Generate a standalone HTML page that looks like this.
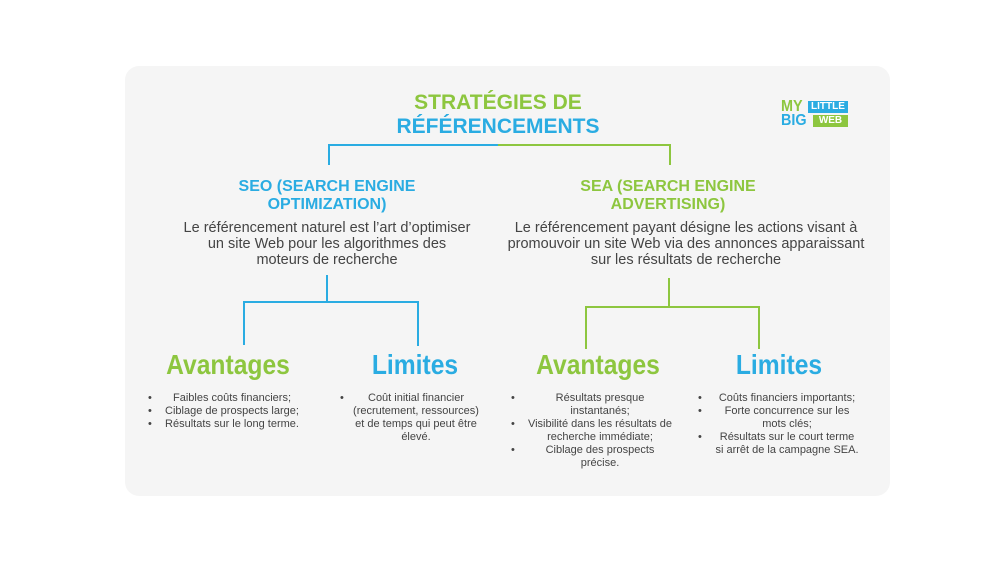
<!DOCTYPE html>
<html><head><meta charset="utf-8"><style>
body{margin:0;width:1000px;height:563px;background:#fff;position:relative;overflow:hidden;font-family:"Liberation Sans",sans-serif}
.card{position:absolute;left:125px;top:66px;width:765px;height:430px;background:#f5f5f5;border-radius:14px}
.t{position:absolute;text-align:center;white-space:nowrap;transform:translateX(-50%)}
.b{color:#2aace2}.g{color:#8dc63f}
.h{font-weight:bold;font-size:21px;line-height:24px}
.s{font-weight:bold;font-size:16px;line-height:18px}
.p{font-size:14.5px;line-height:16px;color:#444}
.a{font-weight:bold;font-size:28px;line-height:30px;transform:translateX(-50%) scaleX(0.88)}
.l{position:absolute;font-size:11px;line-height:13px;color:#444;text-align:center}
.l div{position:relative}
.l div:before{content:"•";position:absolute;left:0}
.ln{position:absolute}
</style></head><body>
<div class="card"></div>
<div class="t h g" style="left:498px;top:91px">STRATÉGIES DE</div>
<div class="t h b" style="left:498px;top:115px">RÉFÉRENCEMENTS</div>
<!-- logo -->
<div style="position:absolute;left:781px;top:100px;font-weight:bold;font-size:16px;line-height:14px;color:#8dc63f;transform:scaleX(0.9);transform-origin:left">MY</div>
<div style="position:absolute;left:808px;top:101px;width:40px;height:12px;background:#2aace2;color:#fff;font-weight:bold;font-size:10px;line-height:12px;text-align:center">LITTLE</div>
<div style="position:absolute;left:781px;top:114px;font-weight:bold;font-size:16px;line-height:14px;color:#2aace2;transform:scaleX(0.9);transform-origin:left">BIG</div>
<div style="position:absolute;left:813px;top:115px;width:35px;height:12px;background:#8dc63f;color:#fff;font-weight:bold;font-size:10px;line-height:12px;text-align:center">WEB</div>
<!-- connectors -->
<div class="ln" style="left:328px;top:144px;width:170px;height:2px;background:#2aace2"></div>
<div class="ln" style="left:498px;top:144px;width:172px;height:2px;background:#8dc63f"></div>
<div class="ln" style="left:328px;top:144px;width:2px;height:21px;background:#2aace2"></div>
<div class="ln" style="left:669px;top:144px;width:2px;height:21px;background:#8dc63f"></div>
<div class="t s b" style="left:327px;top:178px">SEO (SEARCH ENGINE<br>OPTIMIZATION)</div>
<div class="t s g" style="left:668px;top:178px">SEA (SEARCH ENGINE<br>ADVERTISING)</div>
<div class="t p" style="left:327px;top:220px">Le référencement naturel est l’art d’optimiser<br>un site Web pour les algorithmes des<br>moteurs de recherche</div>
<div class="t p" style="left:686px;top:220px">Le référencement payant désigne les actions visant à<br>promouvoir un site Web via des annonces apparaissant<br>sur les résultats de recherche</div>
<!-- SEO tree -->
<div class="ln" style="left:326px;top:275px;width:2px;height:27px;background:#2aace2"></div>
<div class="ln" style="left:243px;top:301px;width:176px;height:2px;background:#2aace2"></div>
<div class="ln" style="left:243px;top:301px;width:2px;height:44px;background:#2aace2"></div>
<div class="ln" style="left:417px;top:301px;width:2px;height:45px;background:#2aace2"></div>
<!-- SEA tree -->
<div class="ln" style="left:668px;top:278px;width:2px;height:29px;background:#8dc63f"></div>
<div class="ln" style="left:585px;top:306px;width:175px;height:2px;background:#8dc63f"></div>
<div class="ln" style="left:585px;top:306px;width:2px;height:43px;background:#8dc63f"></div>
<div class="ln" style="left:758px;top:306px;width:2px;height:43px;background:#8dc63f"></div>
<div class="t a g" style="left:228px;top:350px">Avantages</div>
<div class="t a b" style="left:415px;top:350px">Limites</div>
<div class="t a g" style="left:598px;top:350px">Avantages</div>
<div class="t a b" style="left:779px;top:350px">Limites</div>
<div class="l" style="left:148px;top:392px;width:168px"><div>Faibles coûts financiers;</div><div>Ciblage de prospects large;</div><div>Résultats sur le long terme.</div></div>
<div class="l" style="left:340px;top:392px;width:152px"><div>Coût initial financier<br>(recrutement, ressources)<br>et de temps qui peut être<br>élevé.</div></div>
<div class="l" style="left:511px;top:392px;width:178px"><div>Résultats presque<br>instantanés;</div><div>Visibilité dans les résultats de<br>recherche immédiate;</div><div>Ciblage des prospects<br>précise.</div></div>
<div class="l" style="left:698px;top:392px;width:178px"><div>Coûts financiers importants;</div><div>Forte concurrence sur les<br>mots clés;</div><div>Résultats sur le court terme<br>si arrêt de la campagne SEA.</div></div>
</body></html>
